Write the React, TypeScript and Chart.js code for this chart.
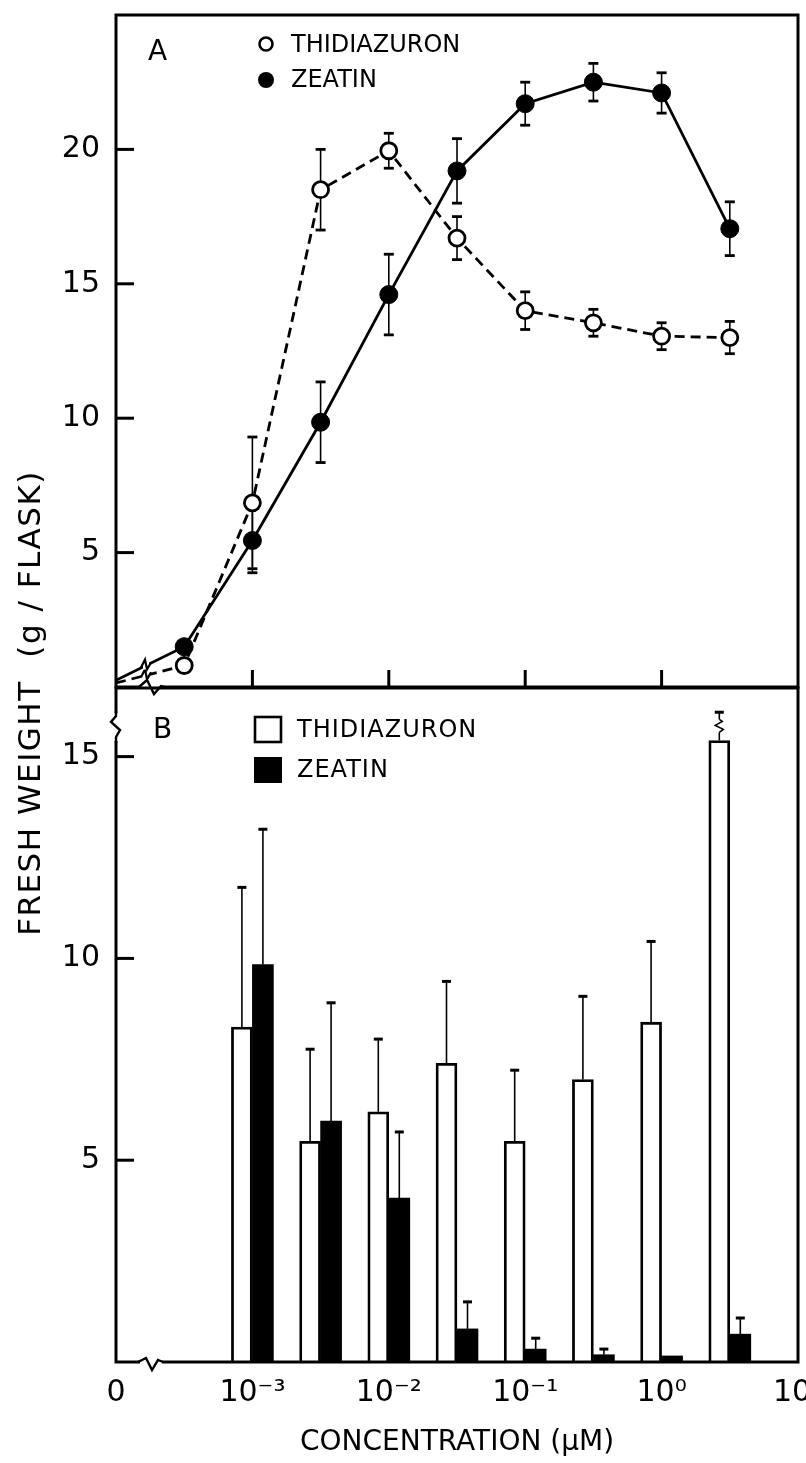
import React, { useEffect, useRef } from 'react';
import { Chart, registerables } from 'chart.js';

Chart.register(...registerables);

const FONT = '"DejaVu Sans", "Liberation Sans", sans-serif';

// x values are log10(concentration, µM); -4 stands in for the "0" control on the broken axis
const concA = [-4, -3.5, -3, -2.5, -2, -1.5, -1, -0.5, 0, 0.5];
const thidA = [0.15, 0.8, 6.85, 18.5, 19.95, 16.7, 14.0, 13.55, 13.05, 13.0];
const thidAErr = [0, 0, 2.45, 1.5, 0.65, 0.8, 0.7, 0.5, 0.5, 0.6];
const zeatA = [0.25, 1.5, 5.45, 9.85, 14.6, 19.2, 21.7, 22.5, 22.1, 17.05];
const zeatAErr = [0, 0, 1.2, 1.5, 1.5, 1.2, 0.8, 0.7, 0.75, 1.0];

const concB = [-3, -2.5, -2, -1.5, -1, -0.5, 0, 0.5];
const thidB = [8.3, 5.47, 6.2, 7.4, 5.47, 7.0, 8.42, 15.4];
const thidBErr = [3.46, 2.28, 1.8, 2.03, 1.76, 2.06, 2.0, 0.7];
const zeatB = [9.85, 5.97, 4.06, 0.82, 0.32, 0.18, 0.15, 0.69];
const zeatBErr = [3.35, 2.93, 1.64, 0.67, 0.27, 0.14, 0, 0.4];
const brokenErrIndexB = 7;

const xTickValues = [-4, -3, -2, -1, 0, 1];
const xTickLabels = ['0', '10⁻³', '10⁻²', '10⁻¹', '10⁰', '10¹'];
const xInnerTicksA = [-3, -2, -1, 0];
const yTicksA = [5, 10, 15, 20];
const yTicksB = [5, 10, 15];
const seriesNames = ['THIDIAZURON', 'ZEATIN'];

function seg(ctx: any, x1: number, y1: number, x2: number, y2: number) {
  ctx.beginPath();
  ctx.moveTo(x1, y1);
  ctx.lineTo(x2, y2);
  ctx.stroke();
}
function poly(ctx: any, pts: number[][]) {
  ctx.beginPath();
  ctx.moveTo(pts[0][0], pts[0][1]);
  for (let i = 1; i < pts.length; i++) ctx.lineTo(pts[i][0], pts[i][1]);
  ctx.stroke();
}

const errorBarsA = {
  id: 'errorBarsA',
  beforeDatasetsDraw(chart: any) {
    const { ctx } = chart;
    const y = chart.scales.y;
    const errs = [thidAErr, zeatAErr];
    ctx.save();
    ctx.strokeStyle = '#000';
    chart.data.datasets.forEach((ds: any, di: number) => {
      const meta = chart.getDatasetMeta(di);
      meta.data.forEach((pt: any, i: number) => {
        const e = errs[di][i];
        if (!e) return;
        const v = ds.data[i].y;
        const yT = y.getPixelForValue(v + e);
        const yB = y.getPixelForValue(v - e);
        ctx.lineWidth = 1.6;
        seg(ctx, pt.x, yT, pt.x, yB);
        ctx.lineWidth = 2.8;
        seg(ctx, pt.x - 5, yT, pt.x + 5, yT);
        seg(ctx, pt.x - 5, yB, pt.x + 5, yB);
      });
    });
    ctx.restore();
  },
};

const decorA = {
  id: 'decorA',
  afterDraw(chart: any) {
    const { ctx, chartArea: a } = chart;
    const x = chart.scales.x;
    const y = chart.scales.y;
    ctx.save();
    ctx.strokeStyle = '#000';
    ctx.fillStyle = '#000';
    ctx.lineWidth = 3;
    ctx.strokeRect(a.left, a.top, a.right - a.left, a.bottom - a.top);
    xInnerTicksA.forEach((v) => {
      const px = x.getPixelForValue(v);
      seg(ctx, px, a.bottom, px, a.bottom - 17);
    });
    yTicksA.forEach((v) => {
      const py = y.getPixelForValue(v);
      seg(ctx, a.left, py, a.left + 18, py);
    });
    // broken x axis
    ctx.fillStyle = '#fff';
    ctx.fillRect(141, a.bottom - 2, 23, 5);
    ctx.lineWidth = 2.4;
    poly(ctx, [[139, a.bottom], [147, a.bottom - 7], [154, a.bottom + 7], [161, a.bottom - 1], [165, a.bottom]]);
    // breaks on the lines between 0 and the first concentration
    chart.data.datasets.forEach((_ds: any, di: number) => {
      const pts = chart.getDatasetMeta(di).data;
      const p0 = pts[0], p1 = pts[1];
      const bx = 146;
      const t = (bx - p0.x) / (p1.x - p0.x);
      const by = p0.y + t * (p1.y - p0.y);
      ctx.fillStyle = '#fff';
      ctx.fillRect(bx - 3, by - 4, 6, 8);
      ctx.lineWidth = 2.2;
      poly(ctx, [[bx - 5, by + 2], [bx - 1, by - 6], [bx + 1, by + 4], [bx + 5, by - 3]]);
    });
    // legend
    ctx.lineWidth = 2.6;
    ctx.fillStyle = '#fff';
    ctx.beginPath();
    ctx.arc(266, 44, 6.5, 0, Math.PI * 2);
    ctx.fill();
    ctx.stroke();
    ctx.fillStyle = '#000';
    ctx.beginPath();
    ctx.arc(266, 80, 8, 0, Math.PI * 2);
    ctx.fill();
    ctx.font = `24px ${FONT}`;
    ctx.textBaseline = 'middle';
    ctx.textAlign = 'left';
    ctx.fillText(chart.data.datasets[0].label, 291, 46);
    ctx.fillText(chart.data.datasets[1].label, 291, 81);
    ctx.font = `28px ${FONT}`;
    ctx.fillText('A', 148, 53);
    ctx.restore();
  },
};

const decorB = {
  id: 'decorB',
  afterDatasetsDraw(chart: any) {
    const { ctx } = chart;
    const y = chart.scales.y;
    const vals = [thidB, zeatB];
    const errs = [thidBErr, zeatBErr];
    ctx.save();
    ctx.strokeStyle = '#000';
    chart.data.datasets.forEach((_ds: any, di: number) => {
      const meta = chart.getDatasetMeta(di);
      meta.data.forEach((el: any, i: number) => {
        const e = errs[di][i];
        if (!e) return;
        const yT = y.getPixelForValue(vals[di][i] + e);
        const x = el.x;
        ctx.lineWidth = 1.6;
        if (di === 0 && i === brokenErrIndexB) {
          const mid = (el.y + yT) / 2;
          seg(ctx, x, el.y, x, mid + 6);
          poly(ctx, [[x, mid + 6], [x + 4, mid + 3], [x - 4, mid - 1], [x + 3, mid - 5], [x, mid - 7]]);
          seg(ctx, x, mid - 7, x, yT);
        } else {
          seg(ctx, x, el.y, x, yT);
        }
        ctx.lineWidth = 3;
        seg(ctx, x - 4.5, yT, x + 4.5, yT);
      });
    });
    ctx.restore();
  },
  afterDraw(chart: any) {
    const { ctx, chartArea: a } = chart;
    const y = chart.scales.y;
    const T = a.top;
    ctx.save();
    ctx.strokeStyle = '#000';
    ctx.fillStyle = '#000';
    ctx.lineWidth = 3;
    ctx.strokeRect(a.left, a.top, a.right - a.left, a.bottom - a.top);
    yTicksB.forEach((v) => {
      const py = y.getPixelForValue(v);
      seg(ctx, a.left, py, a.left + 18, py);
    });
    // broken y axis
    ctx.fillStyle = '#fff';
    ctx.fillRect(a.left - 3, T + 25, 6, 28);
    ctx.lineWidth = 2.4;
    poly(ctx, [[a.left, T + 23], [a.left, T + 28], [a.left - 5, T + 34], [a.left + 4, T + 42], [a.left, T + 49], [a.left, T + 55]]);
    // broken x axis
    ctx.fillStyle = '#fff';
    ctx.fillRect(140, a.bottom - 2, 22, 5);
    poly(ctx, [[138, a.bottom], [146, a.bottom - 4], [152, a.bottom + 8], [158, a.bottom - 2], [163, a.bottom]]);
    // legend
    ctx.lineWidth = 2.6;
    ctx.strokeRect(255, T + 29, 26, 25);
    ctx.fillStyle = '#000';
    ctx.fillRect(254, T + 69, 28, 26);
    ctx.font = `24px ${FONT}`;
    ctx.textBaseline = 'middle';
    ctx.textAlign = 'left';
    try { (ctx as any).letterSpacing = '1px'; } catch (e) {}
    ctx.fillText(chart.data.datasets[0].label, 297, T + 43);
    ctx.fillText(chart.data.datasets[1].label, 297, T + 83);
    try { (ctx as any).letterSpacing = '0px'; } catch (e) {}
    ctx.font = `28px ${FONT}`;
    ctx.fillText('B', 153, T + 43);
    ctx.restore();
  },
};

export default function App() {
  const refA = useRef<HTMLCanvasElement>(null);
  const refB = useRef<HTMLCanvasElement>(null);

  useEffect(() => {
    const tickFont = { family: FONT, size: 30 };
    const chartA = new Chart(refA.current as HTMLCanvasElement, {
      type: 'line',
      data: {
        datasets: [
          {
            label: seriesNames[0],
            data: concA.map((x, i) => ({ x, y: thidA[i] })),
            borderColor: '#000',
            borderWidth: 2.8,
            borderDash: [10, 6],
            pointStyle: 'circle',
            pointRadius: (c: any) => (c.dataIndex === 0 ? 0 : 8),
            pointBackgroundColor: '#fff',
            pointBorderColor: '#000',
            pointBorderWidth: 2.8,
            fill: false,
            tension: 0,
          },
          {
            label: seriesNames[1],
            data: concA.map((x, i) => ({ x, y: zeatA[i] })),
            borderColor: '#000',
            borderWidth: 2.8,
            pointStyle: 'circle',
            pointRadius: (c: any) => (c.dataIndex === 0 ? 0 : 9),
            pointBackgroundColor: '#000',
            pointBorderColor: '#000',
            pointBorderWidth: 1,
            fill: false,
            tension: 0,
          },
        ],
      } as any,
      options: {
        animation: false,
        responsive: false,
        devicePixelRatio: 1,
        layout: { autoPadding: false, padding: { top: 15, right: 8, bottom: 13, left: 0 } },
        plugins: { legend: { display: false }, tooltip: { enabled: false } },
        scales: {
          x: { type: 'linear', min: -4, max: 1, display: false },
          y: {
            type: 'linear',
            min: 0,
            max: 25,
            afterBuildTicks: (s: any) => {
              s.ticks = yTicksA.map((v) => ({ value: v }));
            },
            ticks: { padding: 16, font: tickFont, color: '#000' },
            grid: { display: false, drawTicks: false },
            border: { display: false },
            afterFit: (s: any) => {
              s.width = 116;
              s.paddingTop = 0;
              s.paddingBottom = 0;
            },
          },
        },
      } as any,
      plugins: [errorBarsA, decorA],
    });

    const chartB = new Chart(refB.current as HTMLCanvasElement, {
      type: 'bar',
      data: {
        datasets: [
          {
            label: seriesNames[0],
            data: concB.map((x, i) => ({ x, y: thidB[i] })),
            backgroundColor: '#fff',
            borderColor: '#000',
            borderWidth: 2.8,
            borderSkipped: 'bottom',
          },
          {
            label: seriesNames[1],
            data: concB.map((x, i) => ({ x, y: zeatB[i] })),
            backgroundColor: '#000',
            borderColor: '#000',
            borderWidth: 0,
          },
        ],
      } as any,
      options: {
        animation: false,
        responsive: false,
        devicePixelRatio: 1,
        layout: { autoPadding: false, padding: { top: 8, right: 8, bottom: 0, left: 0 } },
        datasets: { bar: { barThickness: 21, grouped: true } },
        plugins: { legend: { display: false }, tooltip: { enabled: false } },
        scales: {
          x: {
            type: 'linear',
            min: -4,
            max: 1,
            offset: false,
            afterBuildTicks: (s: any) => {
              s.ticks = xTickValues.map((v) => ({ value: v }));
            },
            ticks: {
              callback: (v: any) => xTickLabels[xTickValues.indexOf(Number(v))],
              padding: 13,
              font: tickFont,
              color: '#000',
              maxRotation: 0,
              autoSkip: false,
            },
            grid: { display: false, drawTicks: false },
            border: { display: false },
            title: {
              display: true,
              text: 'CONCENTRATION (µM)',
              font: { family: FONT, size: 28 },
              color: '#000',
              padding: { top: 0, bottom: 3 },
            },
            afterFit: (s: any) => {
              s.height = 101;
              s.paddingLeft = 0;
              s.paddingRight = 0;
            },
          },
          y: {
            type: 'linear',
            min: 0,
            max: 16.7,
            afterBuildTicks: (s: any) => {
              s.ticks = yTicksB.map((v) => ({ value: v }));
            },
            ticks: { padding: 16, font: tickFont, color: '#000' },
            grid: { display: false, drawTicks: false },
            border: { display: false },
            afterFit: (s: any) => {
              s.width = 116;
              s.paddingTop = 0;
              s.paddingBottom = 0;
            },
          },
        },
      } as any,
      plugins: [decorB],
    });

    return () => {
      chartA.destroy();
      chartB.destroy();
    };
  }, []);

  return (
    <div style={{ position: 'absolute', left: 0, top: 0, width: 806, height: 1463, background: '#fff', overflow: 'hidden' }}>
      <canvas ref={refA} width={806} height={700} style={{ position: 'absolute', left: 0, top: 0, width: 806, height: 700 }} />
      <canvas ref={refB} width={806} height={783} style={{ position: 'absolute', left: 0, top: 680, width: 806, height: 783 }} />
      <div
        style={{
          position: 'absolute',
          left: 29 - 300,
          top: 703 - 20,
          width: 600,
          height: 40,
          lineHeight: '40px',
          textAlign: 'center',
          transform: 'rotate(-90deg)',
          fontFamily: FONT,
          fontSize: 31,
          color: '#000',
          whiteSpace: 'pre',
          letterSpacing: '1.5px',
        }}
      >
        FRESH WEIGHT  (g / FLASK)
      </div>
    </div>
  );
}
